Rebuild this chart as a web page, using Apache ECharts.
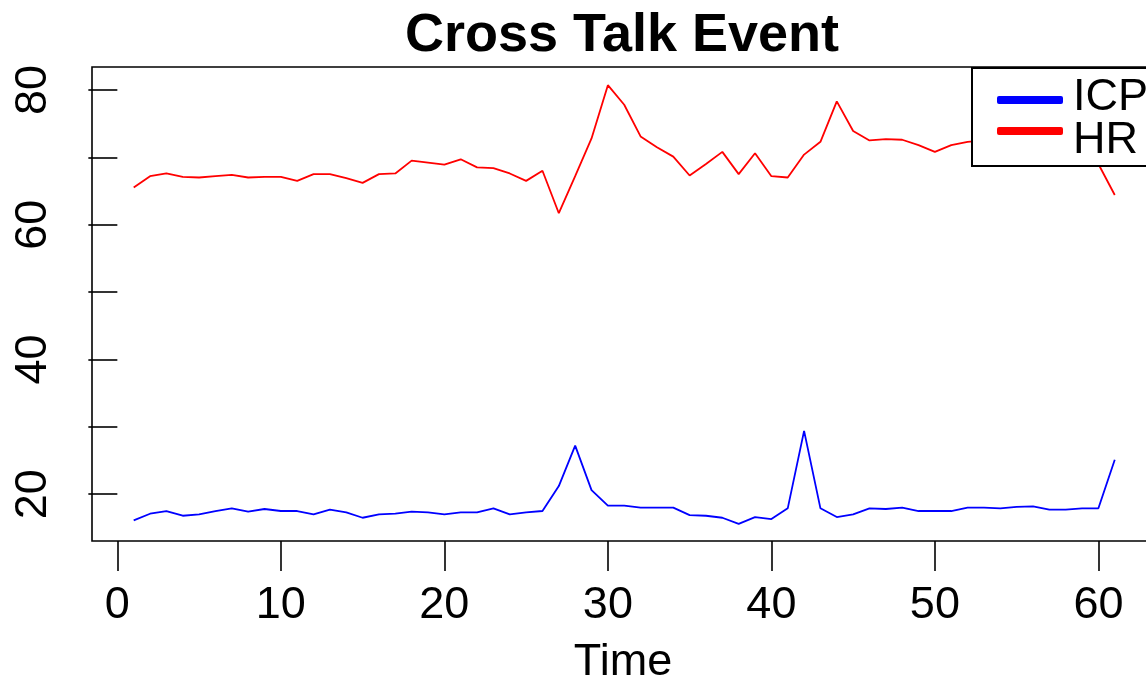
<!DOCTYPE html>
<html>
<head>
<meta charset="utf-8">
<script src="https://cdn.jsdelivr.net/npm/echarts@6/dist/echarts.min.js"></script>
<style>
html,body{margin:0;padding:0;background:#fff;}
#chart{width:1146px;height:677px;}
</style>
</head>
<body>
<div id="chart"></div>
<script>
const time = [];
for (let t = 1; t <= 61; t++) time.push(t);

const icp = [16.1,17.1,17.5,16.8,17.0,17.5,17.9,17.4,17.8,17.5,
             17.5,17.0,17.7,17.3,16.5,17.0,17.1,17.4,17.3,17.0,
             17.3,17.3,17.9,17.0,17.3,17.5,21.2,27.2,20.6,18.3,
             18.3,18.0,18.0,18.0,16.9,16.8,16.5,15.6,16.6,16.3,
             17.9,29.4,17.9,16.6,17.0,17.9,17.8,18.0,17.5,17.5,
             17.5,18.0,18.0,17.9,18.1,18.2,17.7,17.7,17.9,17.9,
             25.1];

const hr = [65.5,67.2,67.6,67.1,67.0,67.2,67.4,67.0,67.1,67.1,
            66.5,67.5,67.5,66.9,66.2,67.5,67.6,69.5,69.2,68.9,
            69.7,68.5,68.4,67.6,66.5,68.0,61.7,67.2,72.8,80.7,
            77.8,73.1,71.5,70.1,67.3,69.0,70.8,67.5,70.6,67.2,
            67.0,70.4,72.3,78.3,73.9,72.5,72.7,72.6,71.8,70.8,
            71.8,72.3,72.5,72.3,72.8,72.2,71.8,72.0,71.0,69.0,
            64.4];

const seriesNames = ['ICP', 'HR'];
const xTicks = [0, 10, 20, 30, 40, 50, 60];
const yTicks = [20, 30, 40, 50, 60, 70, 80];
const yLabels = [20, 40, 60, 80];

const FONT = '"Liberation Sans", Arial, Helvetica, sans-serif';

const chart = echarts.init(document.getElementById('chart'), null, {renderer: 'canvas'});
chart.setOption({
  animation: false,
  backgroundColor: '#fff',
  graphic: [{
    type: 'text',
    x: 622, y: 36,
    style: {
      text: 'Cross Talk Event',
      font: 'bold 54px ' + FONT,
      fill: '#000',
      align: 'center',
      verticalAlign: 'middle'
    }
  }],
  grid: {
    left: 92, right: -8, top: 67, bottom: 136,
    outerBoundsMode: 'none',
    containLabel: false,
    show: true, borderColor: '#000', borderWidth: 1.6,
    backgroundColor: 'transparent'
  },
  legend: [
    {
      // box + labels
      orient: 'vertical',
      left: 972, top: 68,
      padding: [7.5, 30, 2.5, 25],
      borderColor: '#000', borderWidth: 2,
      backgroundColor: '#fff', borderRadius: 0,
      itemWidth: 66, itemHeight: 8, itemGap: -2,
      icon: 'roundRect',
      itemStyle: {opacity: 0},
      selectedMode: false,
      textStyle: {fontSize: 45, color: '#000', fontFamily: FONT, padding: [0, 0, 0, 5]},
      data: seriesNames,
      z: 4
    },
    {
      // line keys
      orient: 'vertical',
      left: 997, top: 96,
      padding: 0,
      itemWidth: 66, itemHeight: 8, itemGap: 23,
      icon: 'roundRect',
      selectedMode: false,
      formatter: function () { return ''; },
      textStyle: {fontSize: 1, lineHeight: 1},
      data: seriesNames,
      z: 5
    }
  ],
  xAxis: {
    type: 'value',
    min: -1.55, max: 63.4,
    name: 'Time',
    nameLocation: 'middle',
    nameGap: 99,
    nameTextStyle: {fontSize: 45, color: '#000', fontFamily: FONT},
    axisLine: {show: false},
    splitLine: {show: false},
    axisTick: {show: true, inside: false, length: 30, customValues: xTicks,
               lineStyle: {color: '#000', width: 1.6}},
    axisLabel: {show: true, customValues: xTicks, fontSize: 45, color: '#000',
                fontFamily: FONT, margin: 42}
  },
  yAxis: {
    type: 'value',
    min: 13.05, max: 83.4,
    axisLine: {show: false},
    splitLine: {show: false},
    axisTick: {show: true, inside: false, length: 29, customValues: yTicks,
               lineStyle: {color: '#000', width: 1.6}},
    axisLabel: {show: true, customValues: yLabels, fontSize: 45, color: '#000',
                fontFamily: FONT, rotate: 90, margin: 36}
  },
  series: [
    {
      name: seriesNames[0], type: 'line', showSymbol: false, symbol: 'none',
      data: time.map((t, i) => [t, icp[i]]),
      lineStyle: {color: '#0000ff', width: 1.8},
      itemStyle: {color: '#0000ff'}
    },
    {
      name: seriesNames[1], type: 'line', showSymbol: false, symbol: 'none',
      data: time.map((t, i) => [t, hr[i]]),
      lineStyle: {color: '#ff0000', width: 1.8},
      itemStyle: {color: '#ff0000'}
    }
  ]
});
</script>
</body>
</html>
